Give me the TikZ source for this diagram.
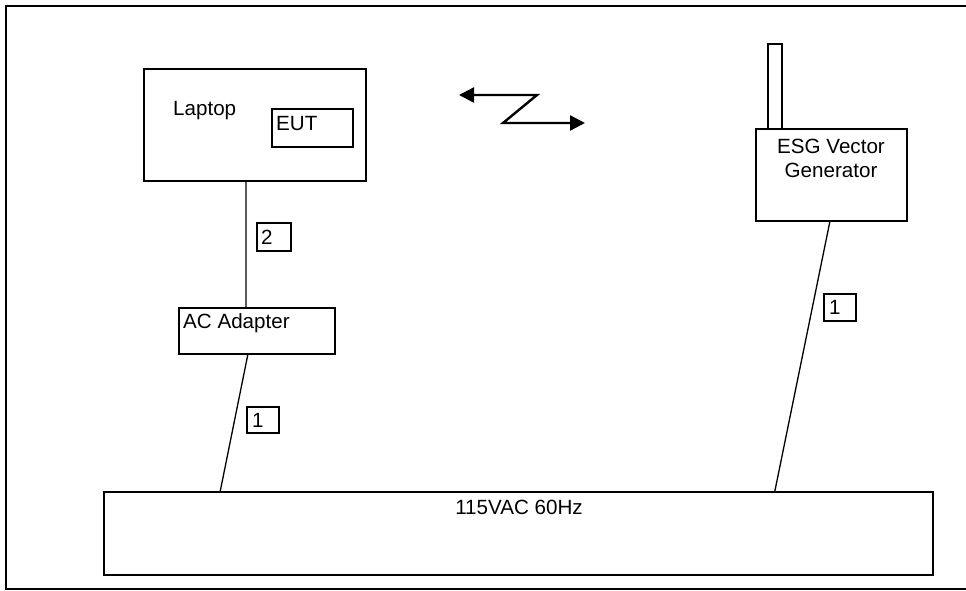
\documentclass[tikz,border=0pt]{standalone}
\usepackage{fontspec}
\setmainfont{Liberation Sans}
\usetikzlibrary{arrows.meta,calc}
\begin{document}
\begin{tikzpicture}[x=1pt,y=-1pt,
  box/.style={draw=black,line width=1.4pt,inner sep=0pt,outer sep=0pt,anchor=north west},
  lbl/.style={inner sep=0pt,font=\fontsize{20.6}{24}\selectfont},
  wire/.style={line width=1.3pt},
  zap/.style={line width=2.4pt,{Triangle[length=15pt,width=15pt]}-{Triangle[length=15pt,width=15pt]}}]
\useasboundingbox (0,0) rectangle (966,591);
% outer frame (right side lies outside the picture)
\draw[line width=2.6pt] (990,6) -- (6,6) -- (6,589) -- (990,589);
% boxes
\node[box,minimum width=222pt,minimum height=112pt] (laptop) at (144,69) {};
\node[box,minimum width=81pt,minimum height=38pt] (eut) at (272,109) {};
\node[box,minimum width=156pt,minimum height=46pt] (adapter) at (179,308) {};
\node[box,minimum width=151pt,minimum height=92pt] (esg) at (756,129) {};
\node[box,minimum width=14pt,minimum height=85pt] (antenna) at (768,44) {};
\node[box,minimum width=829pt,minimum height=83pt] (mains) at (104,492) {};
% texts
\node[lbl,anchor=west] (tlaptop) at (173,111) {Laptop};
\node[lbl,anchor=west] (teut) at (276,124) {EUT};
\node[lbl,anchor=west] (tadapter) at (183,323) {AC Adapter};
\node[lbl,align=center] (tesg) at (831,158) {ESG Vector\\Generator};
\node[lbl] (tmains) at (519,507) {115VAC 60Hz};
% cable labels
\node[box,minimum width=34pt,minimum height=28pt] (c2) at (257,223) {};
\node[lbl,anchor=west] (t2) at (261,237) {2};
\node[box,minimum width=32pt,minimum height=26pt] (c1a) at (247,407) {};
\node[lbl,anchor=west] (t1a) at (252,420) {1};
\node[box,minimum width=32pt,minimum height=27pt] (c1b) at (824,294) {};
\node[lbl,anchor=west] (t1b) at (829,307.5) {1};
% cables
\draw[wire] ($(laptop.south west)!0.459!(laptop.south east)$) -- ($(adapter.north west)!0.429!(adapter.north east)$);
\draw[wire] ($(adapter.south west)!0.442!(adapter.south east)$) -- ($(mains.north west)!0.140!(mains.north east)$);
\draw[wire] ($(esg.south west)!0.490!(esg.south east)$) -- ($(mains.north west)!0.809!(mains.north east)$);
% wireless link symbol
\coordinate (z1) at (459,95);
\coordinate (z2) at (537,95);
\coordinate (z3) at (503,123);
\coordinate (z4) at (585,123);
\draw[zap,line join=miter] (z1) -- (z2) -- (z3) -- (z4);
\end{tikzpicture}
\end{document}
